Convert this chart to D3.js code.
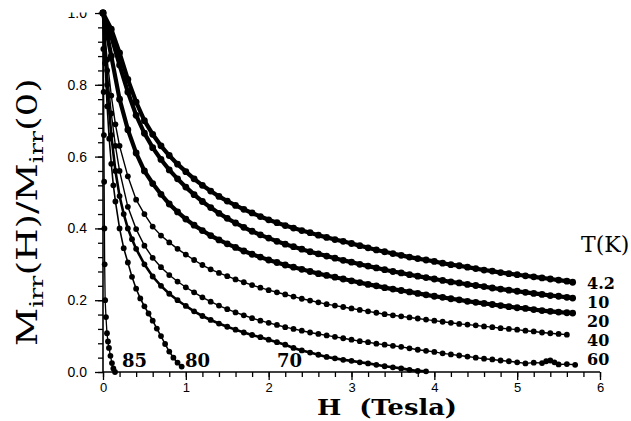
<!DOCTYPE html>
<html>
<head>
<meta charset="utf-8">
<script src="https://cdn.jsdelivr.net/npm/d3@7"></script>
<style>
  body { margin: 0; background: #fff; }
  svg { display: block; }
</style>
</head>
<body>
<svg id="chart" width="631" height="421"></svg>
<script>
// field values (Tesla) for each temperature curve
const field42 = [0,0.1,0.2,0.3,0.4,0.5,0.6,0.7,0.8,0.9,1.0,1.1,1.2,1.3,1.4,1.5,1.6,1.7,1.8,1.9,2.0,2.1,2.2,2.3,2.4,2.5,2.6,2.7,2.8,2.9,3.0,3.1,3.2,3.3,3.4,3.5,3.6,3.7,3.8,3.9,4.0,4.1,4.2,4.3,4.4,4.5,4.6,4.7,4.8,4.9,5.0,5.1,5.2,5.3,5.4,5.5,5.6,5.67];
const m42 = [1.000,0.955,0.889,0.815,0.752,0.700,0.662,0.630,0.603,0.579,0.558,0.538,0.520,0.504,0.489,0.476,0.464,0.453,0.443,0.433,0.424,0.416,0.408,0.401,0.394,0.388,0.381,0.375,0.369,0.364,0.358,0.352,0.346,0.340,0.335,0.330,0.325,0.320,0.316,0.312,0.308,0.303,0.299,0.296,0.292,0.288,0.284,0.281,0.277,0.274,0.271,0.268,0.265,0.262,0.259,0.256,0.253,0.250];
const m10 = [1.000,0.935,0.855,0.780,0.715,0.665,0.625,0.592,0.563,0.538,0.515,0.494,0.475,0.458,0.442,0.428,0.415,0.403,0.392,0.382,0.373,0.364,0.356,0.349,0.342,0.335,0.329,0.323,0.317,0.311,0.306,0.300,0.295,0.290,0.285,0.280,0.276,0.271,0.267,0.263,0.259,0.255,0.251,0.248,0.244,0.241,0.238,0.234,0.231,0.228,0.225,0.222,0.219,0.216,0.213,0.211,0.208,0.206];
const m20 = [1.000,0.880,0.760,0.675,0.610,0.560,0.525,0.495,0.468,0.446,0.426,0.409,0.394,0.380,0.368,0.357,0.347,0.337,0.328,0.320,0.312,0.305,0.298,0.292,0.286,0.280,0.274,0.269,0.264,0.259,0.254,0.249,0.244,0.240,0.235,0.231,0.227,0.223,0.219,0.215,0.211,0.208,0.204,0.201,0.197,0.194,0.191,0.188,0.185,0.182,0.179,0.177,0.174,0.171,0.169,0.167,0.165,0.164];

const field40 = [0,0.05,0.1,0.15,0.2,0.3,0.4,0.5,0.6,0.7,0.8,0.9,1.0,1.1,1.2,1.3,1.4,1.5,1.6,1.7,1.8,1.9,2.0,2.1,2.2,2.3,2.4,2.5,2.6,2.7,2.8,2.9,3.0,3.1,3.2,3.3,3.4,3.5,3.6,3.7,3.8,3.9,4.0,4.1,4.2,4.3,4.4,4.5,4.6,4.7,4.8,4.9,5.0,5.1,5.2,5.3,5.4,5.5,5.6];
const m40 = [1.0,0.87,0.77,0.69,0.63,0.545,0.48,0.44,0.405,0.38,0.361,0.343,0.327,0.312,0.298,0.286,0.276,0.267,0.258,0.25,0.242,0.235,0.228,0.222,0.216,0.21,0.204,0.199,0.194,0.189,0.185,0.181,0.177,0.173,0.169,0.165,0.161,0.158,0.155,0.152,0.149,0.146,0.143,0.14,0.137,0.134,0.132,0.13,0.127,0.125,0.122,0.12,0.118,0.115,0.113,0.11,0.108,0.106,0.104];

const field60 = [0,0.05,0.1,0.15,0.2,0.3,0.4,0.5,0.6,0.7,0.8,0.9,1.0,1.1,1.2,1.3,1.4,1.5,1.6,1.7,1.8,1.9,2.0,2.1,2.2,2.3,2.4,2.5,2.6,2.7,2.8,2.9,3.0,3.1,3.2,3.3,3.4,3.5,3.6,3.7,3.8,3.9,4.0,4.1,4.2,4.3,4.4,4.5,4.6,4.7,4.8,4.9,5.0,5.1,5.2,5.3,5.35,5.4,5.45,5.5,5.6,5.7];
const m60 = [1.0,0.84,0.72,0.63,0.56,0.46,0.398,0.352,0.318,0.292,0.27,0.252,0.236,0.222,0.208,0.196,0.185,0.175,0.166,0.158,0.15,0.143,0.137,0.131,0.125,0.12,0.115,0.11,0.106,0.102,0.098,0.094,0.09,0.086,0.083,0.079,0.076,0.073,0.07,0.066,0.062,0.059,0.056,0.052,0.049,0.046,0.043,0.04,0.037,0.035,0.032,0.03,0.027,0.024,0.026,0.025,0.03,0.032,0.027,0.021,0.022,0.02];

const field70 = [0,0.05,0.1,0.15,0.2,0.25,0.3,0.35,0.4,0.5,0.6,0.7,0.8,0.9,1.0,1.1,1.2,1.3,1.4,1.5,1.6,1.7,1.8,1.9,2.0,2.1,2.2,2.3,2.4,2.5,2.6,2.7,2.8,2.9,3.0,3.1,3.2,3.3,3.4,3.5,3.6,3.7,3.8,3.9];
const m70 = [1.0,0.8,0.66,0.56,0.49,0.44,0.40,0.37,0.343,0.30,0.266,0.24,0.218,0.2,0.184,0.169,0.156,0.145,0.135,0.126,0.118,0.11,0.103,0.097,0.09,0.083,0.076,0.067,0.06,0.054,0.048,0.042,0.038,0.034,0.031,0.027,0.024,0.02,0.016,0.013,0.01,0.006,0.003,0.002];

const field80 = [0,0.025,0.05,0.075,0.1,0.125,0.15,0.2,0.25,0.3,0.35,0.4,0.45,0.5,0.55,0.6,0.65,0.7,0.75,0.8,0.85,0.9,0.95];
const m80 = [1.0,0.86,0.74,0.65,0.58,0.52,0.475,0.40,0.345,0.305,0.265,0.232,0.205,0.183,0.163,0.143,0.121,0.1,0.078,0.057,0.04,0.026,0.015];

const field85 = [0,0.004,0.008,0.011,0.014,0.017,0.020,0.026,0.036,0.048,0.060,0.072,0.090,0.108,0.125,0.145];
const m85 = [1.0,0.9,0.78,0.66,0.53,0.40,0.30,0.2,0.153,0.108,0.085,0.067,0.045,0.025,0.01,0.0];

const tempLabels = ["4.2", "10", "20", "40", "60"];
const curveLabels = ["85", "80", "70"];
const xTicks = [0, 1, 2, 3, 4, 5, 6];
const yTicks = [0, 0.2, 0.4, 0.6, 0.8, 1.0];

const svg = d3.select("#chart");
const x = d3.scaleLinear().domain([0, 6]).range([103, 600]);
const y = d3.scaleLinear().domain([0, 1]).range([372, 13]);

function zipCurve(hs, ms) {
  return hs.map((h, i) => [h, ms[i]]);
}

const curves = [
  { pts: zipCurve(field42, m42), thick: true },
  { pts: zipCurve(field42, m10), thick: true },
  { pts: zipCurve(field42, m20), thick: true },
  { pts: zipCurve(field40, m40), thick: false, lw: 1.4 },
  { pts: zipCurve(field60, m60), thick: false, lw: 1.4 },
  { pts: zipCurve(field70, m70), thick: false, lw: 2.6 },
  { pts: zipCurve(field80, m80), thick: false, lw: 1.6 },
  { pts: zipCurve(field85, m85), thick: false, lw: 1.3 }
];

// axes
const xMinor = d3.range(0, 6.0001, 0.2);
const yMinor = d3.range(0, 1.0001, 0.04);

svg.append("g")
  .attr("transform", "translate(0,372)")
  .call(d3.axisBottom(x).tickValues(xMinor).tickSize(5).tickFormat(""))
  .call(g => g.select(".domain").remove());
const xAxis = svg.append("g")
  .attr("transform", "translate(0,372)")
  .call(d3.axisBottom(x).tickValues(xTicks).tickSize(8).tickPadding(3).tickFormat(d3.format("d")));
xAxis.selectAll("text").attr("font-family", "Liberation Sans, Arial, sans-serif").attr("font-size", 13);

svg.append("g")
  .attr("transform", "translate(103,0)")
  .call(d3.axisLeft(y).tickValues(yMinor).tickSize(5).tickFormat(""))
  .call(g => g.select(".domain").remove());
const yAxis = svg.append("g")
  .attr("transform", "translate(103,0)")
  .call(d3.axisLeft(y).tickValues(yTicks).tickSize(8).tickPadding(8).tickFormat(d3.format(".1f")));
yAxis.selectAll("text").attr("font-family", "Liberation Sans, Arial, sans-serif").attr("font-size", 14);

svg.selectAll(".domain").attr("stroke-width", 1.6);
svg.selectAll(".tick line").attr("stroke-width", 1.3);
xAxis.select(".domain").attr("d", "M103,0H600");
yAxis.select(".domain").attr("d", "M0,372V13");

// top label is cut off in the reference
svg.append("rect").attr("x", 50).attr("y", 0).attr("width", 48).attr("height", 12.5).attr("fill", "#fff");

// curves
const line = d3.line().x(d => x(d[0])).y(d => y(d[1]));
curves.forEach(c => {
  svg.append("path")
    .attr("d", line(c.pts))
    .attr("fill", "none")
    .attr("stroke", "#000")
    .attr("stroke-width", c.thick ? 4.2 : c.lw);
  svg.append("g").selectAll("circle")
    .data(c.pts)
    .join("circle")
    .attr("cx", d => x(d[0]))
    .attr("cy", d => y(d[1]))
    .attr("r", c.thick ? 3.4 : 2.9)
    .attr("fill", "#000");
});

// temperature labels on the right
const tempBase = [289, 308, 327, 346, 365];
svg.append("g").selectAll("text")
  .data(tempLabels)
  .join("text")
  .attr("x", 587)
  .attr("y", (d, i) => tempBase[i])
  .attr("font-family", "DejaVu Serif, serif")
  .attr("font-weight", "bold")
  .attr("font-size", 16)
  .text(d => d);

svg.append("text")
  .attr("x", 581)
  .attr("y", 252)
  .attr("font-family", "DejaVu Serif, serif")
  .attr("font-size", 22)
  .text("T(K)");

// labels of the high-temperature curves
const curveLabelX = [122, 185, 277];
svg.append("g").selectAll("text")
  .data(curveLabels)
  .join("text")
  .attr("x", (d, i) => curveLabelX[i])
  .attr("y", 367)
  .attr("font-family", "DejaVu Serif, serif")
  .attr("font-weight", "bold")
  .attr("font-size", 18)
  .text(d => d);

// x title
svg.append("text")
  .attr("x", 317)
  .attr("y", 415)
  .attr("font-family", "DejaVu Serif, serif")
  .attr("font-weight", "bold")
  .attr("font-size", 22)
  .attr("textLength", 140)
  .attr("lengthAdjust", "spacingAndGlyphs")
  .text("H\u00a0\u00a0(Tesla)");

// y title
const yTitle = svg.append("text")
  .attr("font-family", "DejaVu Serif, serif")
  .attr("font-size", 28);
yTitle.append("tspan").text("M");
yTitle.append("tspan").attr("font-size", 19).attr("dy", 6).text("irr");
yTitle.append("tspan").attr("dy", -6).text("(H)/M");
yTitle.append("tspan").attr("font-size", 19).attr("dy", 6).text("irr");
yTitle.append("tspan").attr("dy", -6).text("(0)");
const titleLen = yTitle.node().getComputedTextLength();
const sx = 268 / titleLen;
yTitle.attr("transform", `translate(37,346) rotate(-90) scale(${sx},1)`);
</script>
</body>
</html>
